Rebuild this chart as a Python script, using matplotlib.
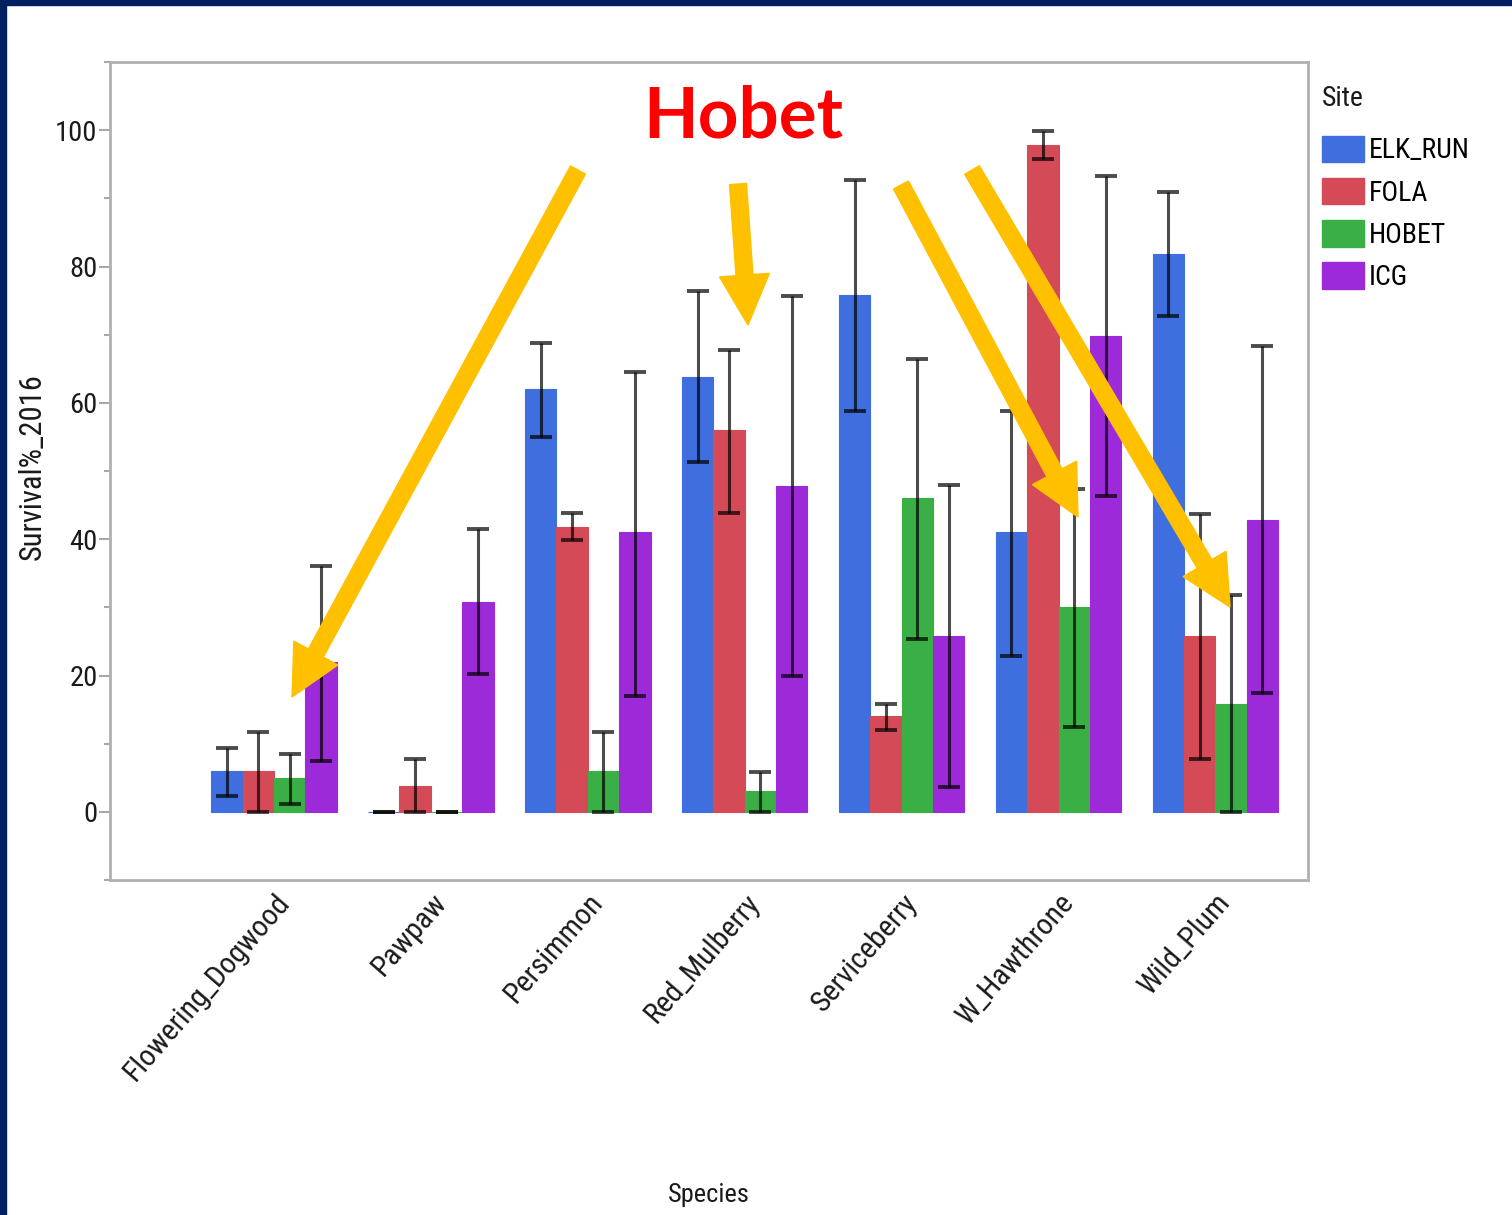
import matplotlib
matplotlib.use("Agg")
import matplotlib.pyplot as plt
import numpy as np
from matplotlib.patches import FancyArrow, Patch, Rectangle
from matplotlib.ticker import MultipleLocator

species = ["Flowering_Dogwood", "Pawpaw", "Persimmon", "Red_Mulberry",
           "Serviceberry", "W_Hawthrone", "Wild_Plum"]
sites = ["ELK_RUN", "FOLA", "HOBET", "ICG"]

elk_run = [6.0, 0.0, 62.0, 63.8, 75.8, 41.0, 81.8]
fola = [6.0, 3.8, 41.8, 56.0, 14.0, 97.8, 25.8]
hobet = [5.0, 0.0, 6.0, 3.1, 46.0, 30.0, 15.8]
icg = [22.0, 30.8, 41.0, 47.8, 25.8, 69.8, 42.8]

elk_lo = [2.3, 0.0, 55.0, 51.3, 58.8, 22.9, 72.7]
elk_hi = [9.4, 0.0, 68.8, 76.4, 92.7, 58.8, 90.9]
fola_lo = [0.0, 0.0, 39.9, 43.8, 12.0, 95.7, 7.8]
fola_hi = [11.7, 7.8, 43.8, 67.7, 15.8, 99.9, 43.7]
hobet_lo = [1.2, 0.0, 0.0, 0.0, 25.4, 12.5, 0.0]
hobet_hi = [8.5, 0.0, 11.7, 5.9, 66.4, 47.4, 31.8]
icg_lo = [7.5, 20.2, 17.0, 20.0, 3.7, 46.3, 17.4]
icg_hi = [36.0, 41.5, 64.5, 75.7, 48.0, 93.3, 68.3]

colors = ["#3F6FDE", "#D44A57", "#3AAF45", "#9D2AD8"]

values = [elk_run, fola, hobet, icg]
lows = [elk_lo, fola_lo, hobet_lo, icg_lo]
highs = [elk_hi, fola_hi, hobet_hi, icg_hi]

plt.rcParams["font.family"] = ["Liberation Sans Narrow", "DejaVu Sans Condensed",
                               "Roboto Condensed", "Liberation Sans", "DejaVu Sans"]

W, H = 1512, 1215
fig = plt.figure(figsize=(W / 100, H / 100), dpi=100)
fig.patch.set_facecolor("white")

ax = fig.add_axes([110 / W, 1 - 880 / H, (1308 - 110) / W, (880 - 62) / H])

x = np.arange(len(species))
bw = 0.2
for i, (vals, lo, hi, c) in enumerate(zip(values, lows, highs, colors)):
    xi = x + (i - 1.5) * bw
    ax.bar(xi, vals, width=bw, color=c, edgecolor=c, linewidth=0.8, zorder=2)
    vals_a = np.array(vals)
    yerr = np.vstack([vals_a - np.array(lo), np.array(hi) - vals_a])
    ax.errorbar(xi, vals, yerr=yerr, fmt="none", ecolor="black", alpha=0.7,
                elinewidth=2.2, capsize=8, capthick=2.8, zorder=3)

ax.set_xlim(-1.045, 6.59)
ax.set_ylim(-10, 110)
ax.set_yticks([0, 20, 40, 60, 80, 100])
ax.yaxis.set_minor_locator(MultipleLocator(10))
ax.tick_params(axis="y", which="major", length=8, width=1.5, color="#A8A8A8",
               labelsize=20.5, labelcolor="#1a1a1a", pad=1)
ax.tick_params(axis="y", which="minor", length=4, width=1.5, color="#A8A8A8")
ax.set_xticks(x)
ax.set_xticklabels(species, rotation=49, ha="right", va="top",
                   rotation_mode="anchor", fontsize=21.5, color="#1a1a1a")
ax.tick_params(axis="x", length=0, pad=6)
for s in ax.spines.values():
    s.set_color("#B0B0B0")
    s.set_linewidth(2)

ax.set_ylabel("Survival%_2016", fontsize=22, color="#1a1a1a")
ax.yaxis.set_label_coords(-0.053, 0.505)
ax.set_xlabel("Species", fontsize=19, color="#1a1a1a")
ax.xaxis.set_label_coords(0.5, -0.37)

handles = [Patch(facecolor=c, edgecolor=c) for c in colors]
leg = ax.legend(handles, sites, loc="upper left",
                bbox_to_anchor=(1.0117, 0.910), frameon=False, fontsize=20,
                handlelength=1.52, handleheight=1.1,
                handletextpad=0.15, labelspacing=0.48,
                borderaxespad=0, borderpad=0)
fig.text(1322 / W, 1 - 98 / H, "Site", fontsize=20, color="#1a1a1a",
         ha="left", va="center")

# Annotation text
fig.text(743 / W, 1 - 117 / H, "Hobet", color="#FF0000", fontsize=51,
         fontweight="bold", family=["Lato", "DejaVu Sans"],
         ha="center", va="center")

# Annotation arrows (in figure pixel space)
arrows = [((578, 170), (292, 697)),
          ((738, 184), (748, 325)),
          ((901, 185), (1078, 517)),
          ((972, 170), (1230, 607))]
for (x0, y0), (x1, y1) in arrows:
    a = FancyArrow(x0, H - y0, x1 - x0, -(y1 - y0), width=17, head_width=50,
                   head_length=50, length_includes_head=True,
                   color="#FFC000", transform=None, zorder=10)
    fig.add_artist(a)

# slide border (navy), top and left edges
fig.add_artist(Rectangle((0, 0), 6 / W, 1, transform=fig.transFigure,
                         color="#002060", zorder=20))
fig.add_artist(Rectangle((0, 1 - 5 / H), 1, 5 / H, transform=fig.transFigure,
                         color="#002060", zorder=20))

fig.savefig("out.png", dpi=100)
